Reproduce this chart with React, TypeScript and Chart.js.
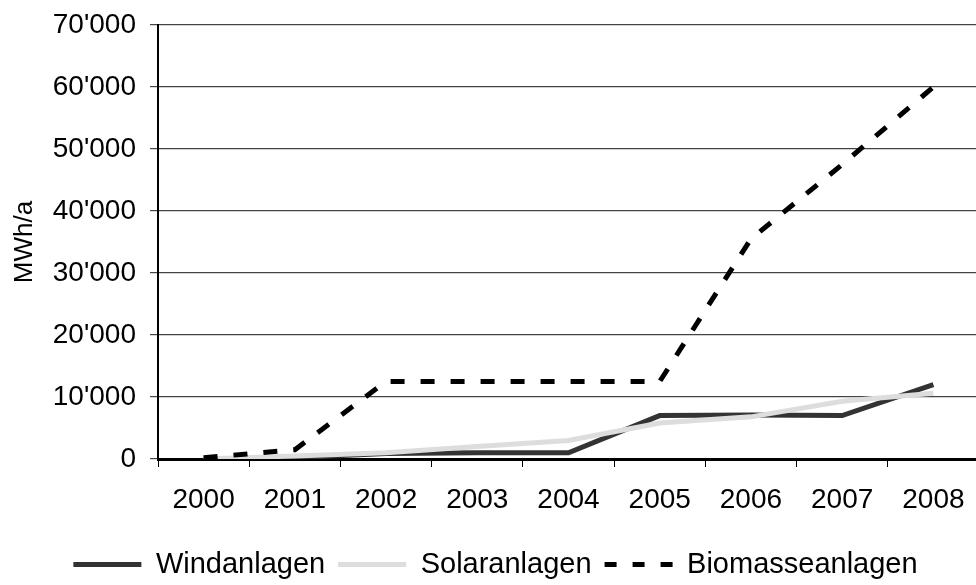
import React, { useEffect, useRef } from "react";
import { Chart, registerables } from "chart.js";

Chart.register(...registerables);

const years = ["2000", "2001", "2002", "2003", "2004", "2005", "2006", "2007", "2008"];
const windanlagen = [0, 200, 900, 1000, 1000, 7000, 7100, 7000, 12000];
const solaranlagen = [0, 500, 1000, 2000, 3000, 5800, 6800, 9300, 10600];
const biomasseanlagen = [200, 1500, 12500, 12500, 12500, 12500, 35500, 47500, 60000];
const seriesNames = ["Windanlagen", "Solaranlagen", "Biomasseanlagen"];
const yAxisTitle = "MWh/a";

const FONT = "'Liberation Sans', Arial, sans-serif";

function fmt(v: number): string {
  return String(v).replace(/\B(?=(\d{3})+(?!\d))/g, "'");
}

export default function App() {
  const ref = useRef<HTMLCanvasElement | null>(null);
  useEffect(() => {
    if (!ref.current) return;
    const chart = new Chart(ref.current, {
      type: "line",
      data: {
        labels: years,
        datasets: [
          {
            label: seriesNames[0],
            data: windanlagen,
            borderColor: "#333333",
            backgroundColor: "#333333",
            borderWidth: 5,
            pointRadius: 0,
            tension: 0,
            order: 3,
          },
          {
            label: seriesNames[1],
            data: solaranlagen,
            borderColor: "#dddddd",
            backgroundColor: "#dddddd",
            borderWidth: 5,
            pointRadius: 0,
            tension: 0,
            order: 2,
          },
          {
            label: seriesNames[2],
            data: biomasseanlagen,
            borderColor: "#000000",
            backgroundColor: "#000000",
            borderWidth: 5,
            borderDash: [14, 16],
            pointRadius: 0,
            tension: 0,
            order: 1,
          },
        ],
      },
      options: {
        responsive: false,
        animation: false,
        devicePixelRatio: 1,
        layout: { padding: { top: 25, right: 1, bottom: 0, left: 12 } },
        plugins: {
          tooltip: { enabled: false },
          legend: {
            position: "bottom",
            labels: {
              usePointStyle: true,
              pointStyle: "line",
              pointStyleWidth: 68,
              padding: 13,
              color: "#000",
              font: { family: FONT, size: 29 },
              sort: (a: any, b: any) => a.datasetIndex - b.datasetIndex,
              generateLabels: (c: any) => {
                const items = Chart.defaults.plugins.legend.labels.generateLabels(c);
                items.forEach((it: any) => {
                  const ds: any = c.data.datasets[it.datasetIndex];
                  it.lineDash = ds.borderDash ? [12, 16] : [];
                  it.lineWidth = 5;
                  it.strokeStyle = ds.borderColor;
                  it.fillStyle = ds.borderColor;
                  it.lineCap = "butt";
                });
                return items;
              },
            },
          },
        },
        scales: {
          x: {
            offset: true,
            afterFit: (s: any) => {
              s.height = 78;
              s.paddingLeft = 0;
              s.paddingRight = 0;
            },
            grid: {
              display: true,
              offset: true,
              drawOnChartArea: false,
              tickLength: 8,
              color: "#000",
              lineWidth: 1,
            },
            border: { display: true, color: "#000", width: 3 },
            ticks: {
              color: "#000",
              padding: 16,
              maxRotation: 0,
              autoSkip: false,
              font: { family: FONT, size: 28 },
            },
          },
          y: {
            min: 0,
            max: 70000,
            afterFit: (s: any) => {
              s.width = 146;
              s.paddingTop = 0;
              s.paddingBottom = 0;
            },
            grid: {
              color: "#444",
              lineWidth: 1.2,
              tickLength: 8,
            },
            border: { display: true, color: "#000", width: 2 },
            ticks: {
              stepSize: 10000,
              color: "#000",
              padding: 14,
              font: { family: FONT, size: 28 },
              callback: (v: any) => fmt(Number(v)),
            },
            title: {
              display: true,
              text: yAxisTitle,
              color: "#000",
              padding: { top: -3, bottom: 0 },
              font: { family: FONT, size: 26 },
            },
          },
        },
      },
    });
    return () => chart.destroy();
  }, []);
  return (
    <div
      style={{
        position: "fixed",
        left: 0,
        top: 0,
        width: 976,
        height: 585,
        overflow: "hidden",
        background: "#fff",
      }}
    >
      <canvas ref={ref} width={980} height={589} style={{ display: "block", width: 980, height: 589 }} />
    </div>
  );
}
